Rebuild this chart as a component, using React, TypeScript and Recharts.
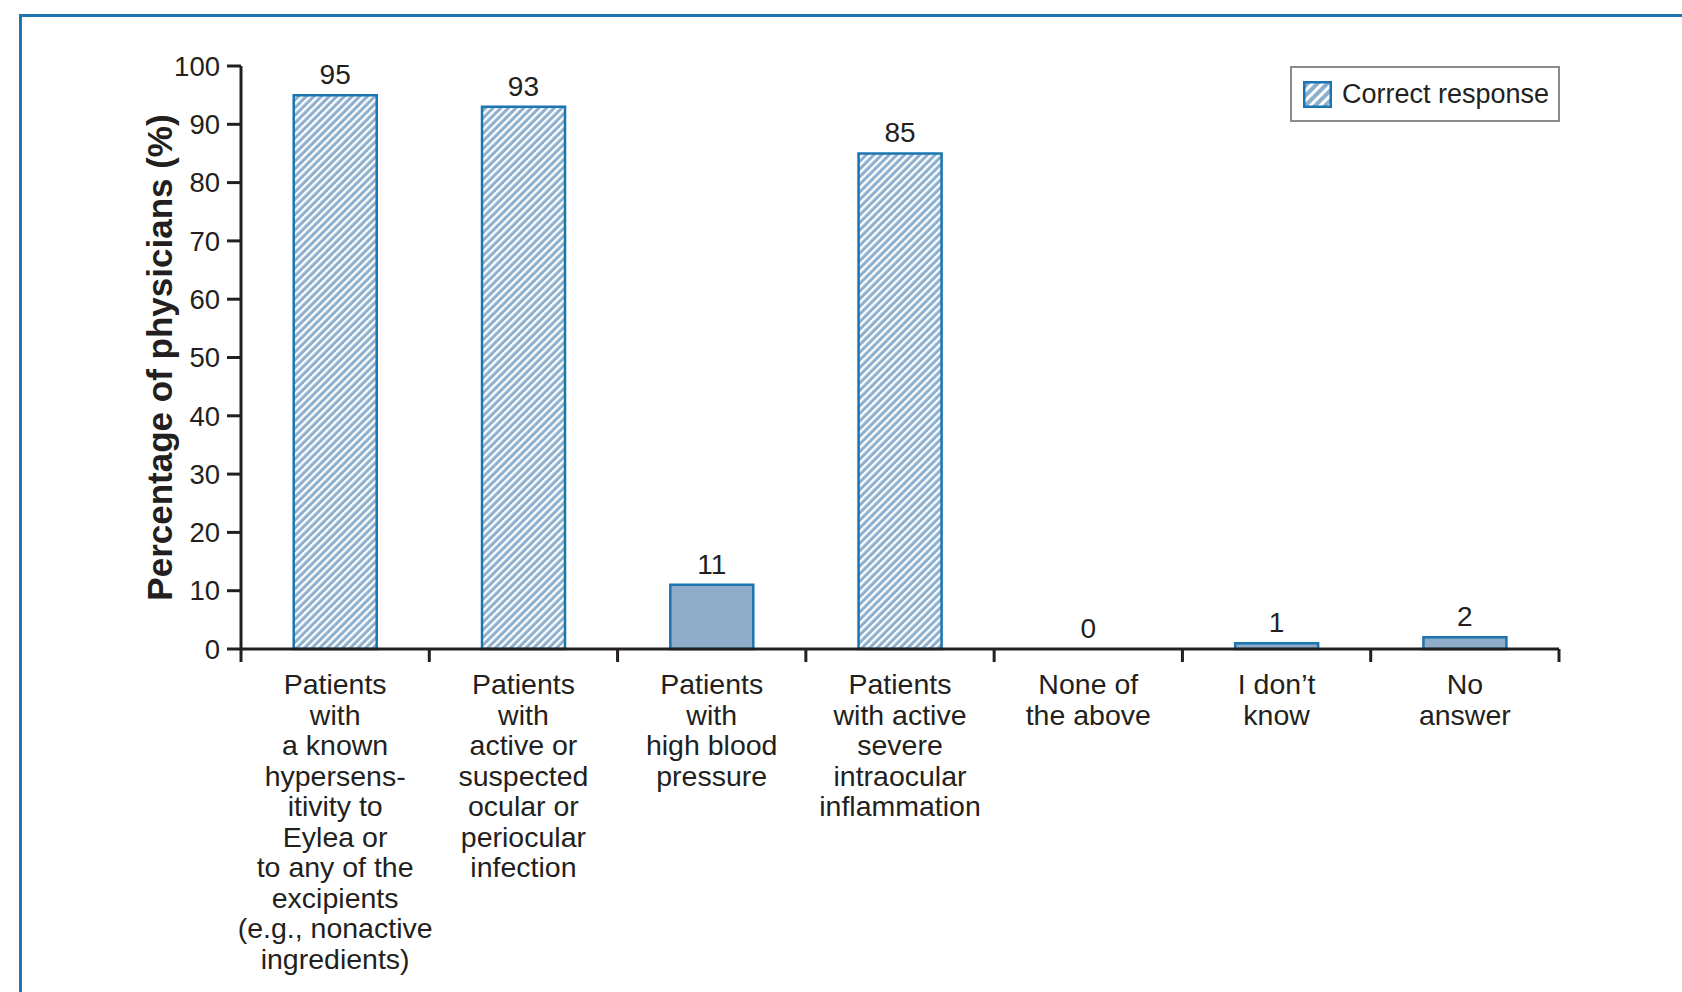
import React from 'react';
import { ComposedChart, Bar, Line, XAxis, YAxis, LabelList, Legend, Cell } from 'recharts';

// ---- data ----
const CATEGORY_KEYS = ['hypersensitivity', 'infection', 'bloodPressure', 'inflammation', 'none', 'dontKnow', 'noAnswer'];
const CATEGORY_LINES: string[][] = [
  ['Patients', 'with', 'a known', 'hypersens-', 'itivity to', 'Eylea or', 'to any of the', 'excipients', '(e.g., nonactive', 'ingredients)'],
  ['Patients', 'with', 'active or', 'suspected', 'ocular or', 'periocular', 'infection'],
  ['Patients', 'with', 'high blood', 'pressure'],
  ['Patients', 'with active', 'severe', 'intraocular', 'inflammation'],
  ['None of', 'the above'],
  ['I don\u2019t', 'know'],
  ['No', 'answer'],
];
const VALUES = [95, 93, 11, 85, 0, 1, 2];
const CORRECT = [true, true, false, true, false, false, false];
const Y_TICKS = [0, 10, 20, 30, 40, 50, 60, 70, 80, 90, 100];
const Y_LABEL = 'Percentage of physicians (%)';
const LEGEND_LABEL = 'Correct response';

const data = CATEGORY_KEYS.map((k, i) => ({ key: k, value: VALUES[i], correct: CORRECT[i] }));

// ---- layout / style ----
const W = 1682;
const H = 992;
const MARGIN = { top: 66, right: 123, left: 0, bottom: 13 };
const Y_AXIS_W = 241;
const X_AXIS_H = 330;
const PLOT_W = W - MARGIN.left - MARGIN.right - Y_AXIS_W;
const HALF_BAND = PLOT_W / CATEGORY_KEYS.length / 2;
const FONT = '"Liberation Sans", Arial, Helvetica, sans-serif';
const INK = '#231f20';
const BLUE = '#1b75b0';
const SOLID_FILL = '#8fadc8';
const HATCH_FILL = '#8db0cf';

const renderXTick = (props: any) => {
  const { x, y, payload } = props;
  const idx = CATEGORY_KEYS.indexOf(payload.value);
  const lines = CATEGORY_LINES[idx] || [];
  return (
    <g>
      {idx === 0 && (
        <line x1={x - HALF_BAND} x2={x - HALF_BAND} y1={y} y2={y + 13} stroke={INK} strokeWidth={3} />
      )}
      <line x1={x + HALF_BAND} x2={x + HALF_BAND} y1={y} y2={y + 13} stroke={INK} strokeWidth={3} />
      <text x={x} y={y} textAnchor="middle" fontSize={28.5} fill={INK} fontFamily={FONT}>
        {lines.map((l, i) => (
          <tspan key={i} x={x} y={y + 45 + i * 30.5}>
            {l}
          </tspan>
        ))}
      </text>
    </g>
  );
};

const renderYLabel = (p: any) => {
  const vb = p.viewBox || {};
  const cy = vb.y + vb.height / 2;
  const cx = 159;
  return (
    <text
      x={cx}
      y={cy}
      transform={`rotate(-90 ${cx} ${cy})`}
      textAnchor="middle"
      dominantBaseline="central"
      fontSize={35}
      fontWeight="bold"
      fill={INK}
      fontFamily={FONT}
    >
      {Y_LABEL}
    </text>
  );
};

const renderLegend = () => (
  <div
    style={{
      width: 266,
      height: 52,
      border: '2px solid #8c8c8c',
      display: 'flex',
      alignItems: 'center',
      fontFamily: FONT,
      fontSize: 27,
      color: INK,
      background: '#fff',
    }}
  >
    <svg width={29} height={27} style={{ marginLeft: 11, display: 'block' }}>
      <defs>
        <pattern id="hatchLegend" patternUnits="userSpaceOnUse" width={7} height={7} patternTransform="rotate(45)">
          <rect width={7} height={7} fill={HATCH_FILL} />
          <rect width={3} height={7} fill="#ffffff" />
        </pattern>
      </defs>
      <rect x={1.25} y={1.25} width={26.5} height={24.5} fill="url(#hatchLegend)" stroke={BLUE} strokeWidth={2.5} />
    </svg>
    <span style={{ marginLeft: 10, lineHeight: '27px' }}>{LEGEND_LABEL}</span>
  </div>
);

export default function App() {
  return (
    <div style={{ position: 'absolute', left: 0, top: 0, width: W, height: H, overflow: 'hidden', background: '#fff' }}>
      <div
        style={{
          position: 'absolute',
          left: 19,
          top: 14,
          width: W,
          height: H,
          borderTop: `3px solid ${BLUE}`,
          borderLeft: `3px solid ${BLUE}`,
        }}
      />
      <div style={{ position: 'absolute', left: 0, top: 0 }}>
        <ComposedChart width={W} height={H} data={data} margin={MARGIN} barCategoryGap="28%" style={{ fontFamily: FONT }}>
          <defs>
            <pattern id="hatch" patternUnits="userSpaceOnUse" width={5.4} height={5.4} patternTransform="rotate(45)">
              <rect width={5.4} height={5.4} fill={HATCH_FILL} />
              <rect width={2.3} height={5.4} fill="#ffffff" />
            </pattern>
          </defs>
          <XAxis
            dataKey="key"
            type="category"
            height={X_AXIS_H}
            interval={0}
            tickLine={false}
            tickSize={0}
            tickMargin={0}
            axisLine={{ stroke: INK, strokeWidth: 3 }}
            tick={renderXTick}
          />
          <YAxis
            type="number"
            domain={[0, 100]}
            ticks={Y_TICKS}
            width={Y_AXIS_W}
            interval={0}
            tickSize={14}
            tickMargin={7}
            tickLine={{ stroke: INK, strokeWidth: 3 }}
            axisLine={{ stroke: INK, strokeWidth: 3 }}
            tick={{ fontSize: 27.5, fill: INK, fontFamily: FONT }}
            label={{ content: renderYLabel }}
          />
          <Legend
            layout="horizontal"
            verticalAlign="middle"
            align="center"
            content={renderLegend}
            wrapperStyle={{ position: 'absolute', left: 1290, top: 66, width: 270, height: 56 }}
          />
          <Bar dataKey="value" stroke={BLUE} strokeWidth={2.5} isAnimationActive={false} legendType="none">
            {data.map((d, i) => (
              <Cell key={i} fill={d.correct ? 'url(#hatch)' : SOLID_FILL} />
            ))}
          </Bar>
          <Line
            dataKey="value"
            stroke="none"
            dot={false}
            activeDot={false}
            legendType="none"
            isAnimationActive={false}
          >
            <LabelList dataKey="value" position="top" offset={11} fontSize={28} fill={INK} fontFamily={FONT} />
          </Line>
        </ComposedChart>
      </div>
    </div>
  );
}
